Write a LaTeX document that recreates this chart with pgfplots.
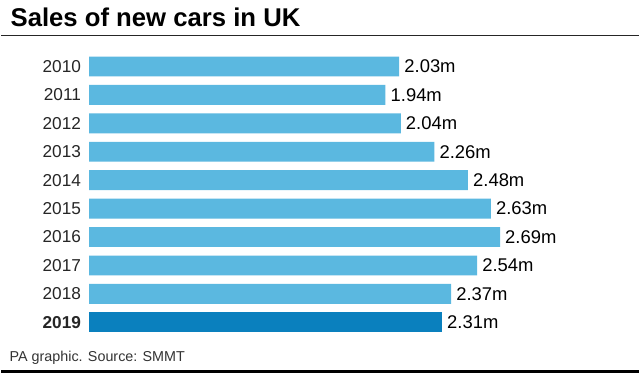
\documentclass[border=0pt]{standalone}
\usepackage{pgfplots}
\pgfplotsset{compat=1.18}
\usepackage{fontspec}
\setmainfont{Liberation Sans}
\definecolor{lightbar}{HTML}{5BB8E0}
\definecolor{darkbar}{HTML}{0A80BE}
\begin{document}
\begin{tikzpicture}[x=1pt,y=1pt]
\path[fill=white] (0,0) rectangle (640,375);
\node[anchor=base west, inner sep=0pt, font=\fontsize{25.8}{30}\selectfont\bfseries] at (9,348.5) {Sales of new cars in UK};
\draw[line width=1.3pt, black!85] (0,339.3) -- (640,339.3);
\draw[line width=3pt] (0,1.5) -- (640,1.5);
\node[anchor=base west, inner sep=0pt, font=\fontsize{14.4}{16}\selectfont, text=black!80] at (8,11.5) {PA graphic. Source: SMMT};
\begin{axis}[
  at={(88pt,322.5pt)}, anchor=north west,
  scale only axis, width=460.5pt, height=285.6pt,
  xmin=0, xmax=3, ymin=-0.5, ymax=9.5, y dir=reverse,
  xbar, bar width=20pt, bar shift=0pt,
  axis line style={draw=none}, major tick length=0pt,
  xtick=\empty, ytick={0,1,2,3,4,5,6,7,8,9},
  yticklabels={2010,2011,2012,2013,2014,2015,2016,2017,2018,\textbf{2019}},
  yticklabel style={font=\fontsize{17.3}{20}\selectfont, text=black!85, inner sep=0pt, xshift=-8pt},
  nodes near coords={\pgfmathprintnumber[fixed,precision=2,fixed zerofill,assume math mode=true]{\pgfplotspointmeta}m},
  every node near coord/.append style={anchor=west, inner sep=0pt, xshift=5pt, font=\fontsize{18.5}{20}\selectfont, text=black},
  clip=false,
]
\addplot[draw=none, fill=lightbar] coordinates {(2.03,0) (1.94,1) (2.04,2) (2.26,3) (2.48,4) (2.63,5) (2.69,6) (2.54,7) (2.37,8)};
\addplot[draw=none, fill=darkbar] coordinates {(2.31,9)};
\end{axis}
\end{tikzpicture}
\end{document}
